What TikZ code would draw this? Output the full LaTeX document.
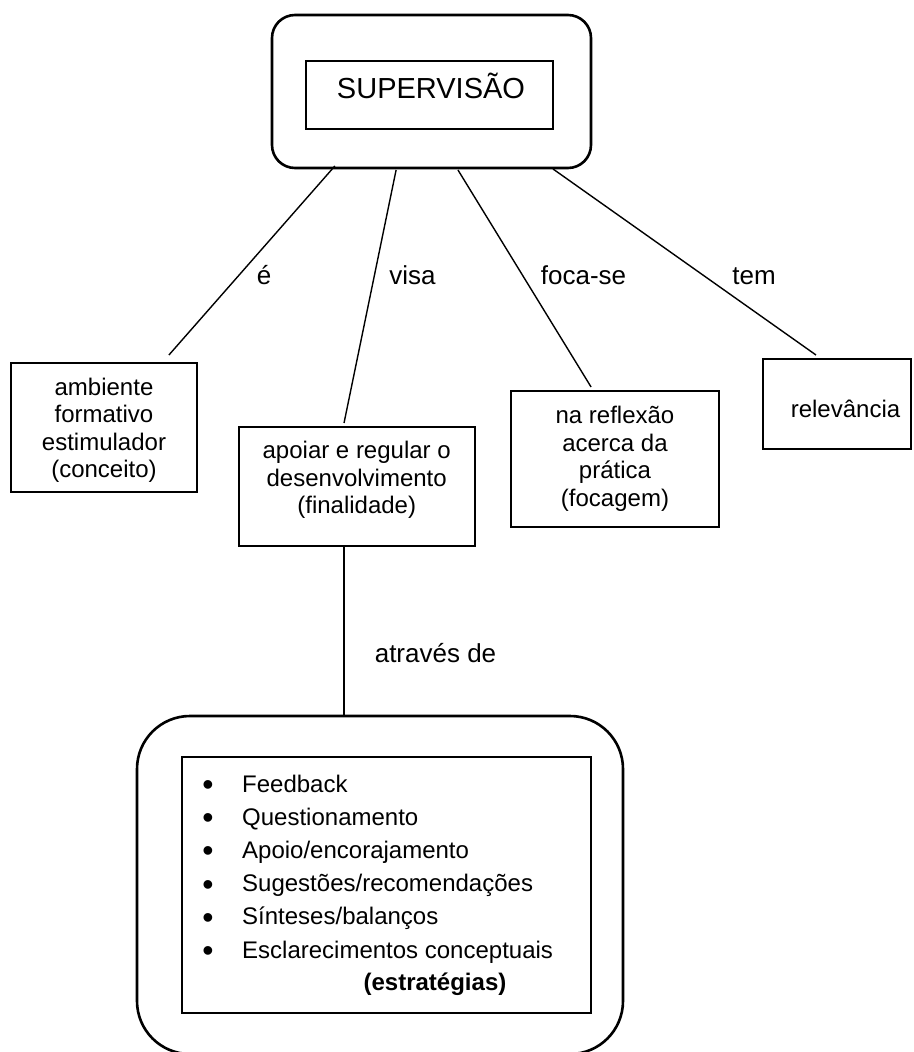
\documentclass[tikz,border=0pt]{standalone}
\usepackage{fontspec}
\setmainfont{Liberation Sans}
\usetikzlibrary{calc}
\begin{document}
\begin{tikzpicture}[x=1pt,y=-1pt,
  box/.style={draw, line width=2.4pt, inner sep=0pt, outer sep=0pt},
  inbox/.style={draw, line width=1.8pt, inner sep=0pt, outer sep=0pt},
  rbox/.style={draw, line width=2.6pt, inner sep=0pt, outer sep=0pt, rounded corners=#1},
  conn/.style={line width=1.4pt},
  btext/.style={font={\fontsize{24}{27.5}\selectfont}, align=center, inner sep=0pt},
  ltext/.style={font={\fontsize{24}{28}\selectfont}, inner sep=0pt},
  bultext/.style={font={\fontsize{32}{36}\selectfont}, inner sep=0pt},
  lab/.style={font={\fontsize{26}{30}\selectfont}, inner sep=0pt, anchor=base},
  title/.style={font={\fontsize{29}{33}\selectfont}, inner sep=0pt, anchor=base}
]
\useasboundingbox (0,0) rectangle (913,1052);

% top concept
\node[rbox=23pt, minimum width=319pt, minimum height=153pt] (sup) at (431.5,91.5) {};
\node[inbox, minimum width=247pt, minimum height=68pt] (supin) at (429.5,95) {};
\node[title] (sup-t) at (431,98) {SUPERVISÃO};

% second level boxes
\node[box, minimum width=186pt, minimum height=129pt] (amb) at (104,427.5) {};
\node[btext] (amb-t) at (104,430.4) {ambiente\\formativo\\estimulador\\(conceito)};

\node[box, minimum width=236pt, minimum height=119pt] (apo) at (357,486.5) {};
\node[btext] (apo-t) at (356.7,479.9) {apoiar e regular o\\desenvolvimento\\(finalidade)};

\node[box, minimum width=208pt, minimum height=136pt] (ref) at (615,459) {};
\node[btext] (ref-t) at (615,458.6) {na reflexão\\acerca da\\prática\\(focagem)};

\node[box, minimum width=148pt, minimum height=90pt] (rel) at (837,404) {};
\node[btext] (rel-t) at (845.5,408.4) {relevância};

% bottom concept
\node[rbox=53pt, minimum width=486pt, minimum height=338pt] (est) at (380,885) {};
\node[inbox, minimum width=409pt, minimum height=256pt] (estin) at (386.5,885) {};
\foreach \t [count=\i] in {Feedback,Questionamento,Apoio/encorajamento,Sugestões/recomendações,Sínteses/balanços,Esclarecimentos conceptuais} {
  \node[bultext, anchor=base] (bul\i) at (208,{795.5+33.2*(\i-1)}) {•};
  \node[ltext, anchor=base west] (item\i) at (242,{792+33.2*(\i-1)}) {\t};
}
\node[ltext, anchor=base, font={\fontsize{24}{28}\selectfont\bfseries}] (est-t) at (435,990) {(estratégias)};

% connectors
\draw[conn] ($(sup.south west)!0.197!(sup.south east)+(0,-2)$) -- ($(amb.north west)!0.849!(amb.north east)+(0,-8)$);
\draw[conn] ($(sup.south west)!0.389!(sup.south east)+(0,2)$) -- ($(apo.north west)!0.445!(apo.north east)+(0,-4)$);
\draw[conn] ($(sup.south west)!0.583!(sup.south east)+(0,2)$) -- ($(ref.north west)!0.385!(ref.north east)+(0,-4)$);
\draw[conn] ($(sup.south west)!0.881!(sup.south east)+(0,1)$) -- ($(rel.north west)!0.358!(rel.north east)+(0,-4)$);
\coordinate (atr) at ($(apo.south west)!0.445!(apo.south east)$);
\draw[conn] (atr) -- (atr |- est.north);

% connector labels
\node[lab] (l1) at (264,284) {é};
\node[lab] (l2) at (412.5,284) {visa};
\node[lab] (l3) at (583.5,284) {foca-se};
\node[lab] (l4) at (754,284) {tem};
\node[lab] (l5) at (435.5,662) {através de};
\end{tikzpicture}
\end{document}
